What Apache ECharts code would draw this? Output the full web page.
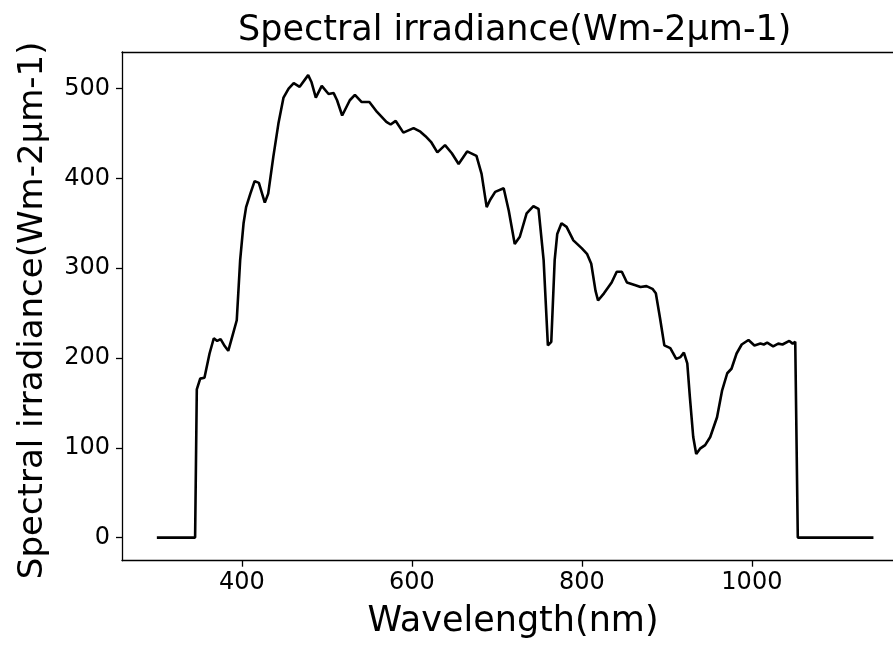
<!DOCTYPE html>
<html>
<head>
<meta charset="utf-8">
<script src="https://cdn.jsdelivr.net/npm/echarts@6/dist/echarts.min.js"></script>
<style>html,body{margin:0;padding:0;background:#fff}#c{width:893px;height:646px}</style>
</head>
<body>
<div id="c"></div>
<script>
const wavelengths = [300,345,347,351,356,362,367,371,375,380,384,389,394,398,402,405,410,415,420,427,431,437,443,449,455,461,468,478,482,487,494,502,508,512,518,527,533,541,550,559,570,575,581,590,602,610,616,623,630,639,647,655,665,676,682,688,692,698,708,714,721,727,735,743,749,755,760,764,768,771,776,782,790,800,806,811,816,819,826,835,841,847,853,863,869,876,883,887,892,897,904,911,916,920,924,927,931,934.5,939,945,951,959,965,971,976,982,988,996,1003,1010,1014,1018,1025,1031,1036,1044,1048,1051,1053,1054,1143];
const irradiance = [0,0,165,177,178,205,222,219,221,213,208,225,242,309,350,368,383,397,395,373,383,424,461,490,500,506,502,515,507,490,503,494,495,487,470,487,493,485,485,474,463,460,464,451,456,452,447,440,429,437,428,416,430,425,405,368,376,385,389,364,327,335,361,369,366,309,214,218,309,338,350,346,331,322,316,305,275,264,272,284,296,296,284,281,279,280,277,272,244,214,211,199,201,206,194,157,112,93,99,103,112,134,164,183,188,205,215,220,214,216,215,217,213,216,215,219,216,218,217,0,0];
const xTicks = [400,600,800,1000];
const yTicks = [0,100,200,300,400,500];
const titleText = 'Spectral irradiance(Wm-2μm-1)';
const xName = 'Wavelength(nm)';
const yName = 'Spectral irradiance(Wm-2μm-1)';

const font = 'DejaVu Sans';
const lineCol = '#000';
const chart = echarts.init(document.getElementById('c'), null, {renderer:'canvas'});
chart.setOption({
  backgroundColor:'#fff',
  animation:false,
  title:{text:titleText,left:233,top:8,textStyle:{fontFamily:font,fontSize:35,fontWeight:'normal',color:'#000'}},
  grid:{left:122,top:52,right:0,bottom:85.3,show:false},
  xAxis:[{type:'value',min:259,max:1166,name:xName,nameLocation:'middle',nameGap:44,
    nameTextStyle:{fontFamily:font,fontSize:35,color:'#000',padding:[0,0,0,11]},
    axisLine:{show:true,onZero:false,lineStyle:{color:lineCol,width:1.3}},
    axisTick:{show:true,length:6,lineStyle:{color:lineCol,width:1.3},customValues:xTicks},
    axisLabel:{fontFamily:font,fontSize:24,color:'#000',margin:10,customValues:xTicks,formatter:v=>String(v)},
    splitLine:{show:false}},
    {type:'value',position:'top',min:259,max:1166,
    axisLine:{show:true,onZero:false,lineStyle:{color:lineCol,width:1.3}},
    axisTick:{show:false},axisLabel:{show:false},splitLine:{show:false}}],
  yAxis:{type:'value',min:-25.75,max:540.75,name:yName,nameLocation:'middle',nameGap:72,
    nameTextStyle:{fontFamily:font,fontSize:34,color:'#000',padding:[0,8,0,0]},
    axisLine:{show:true,onZero:false,lineStyle:{color:lineCol,width:1.3}},
    axisTick:{show:true,length:6,lineStyle:{color:lineCol,width:1.3},customValues:yTicks},
    axisLabel:{fontFamily:font,fontSize:24,color:'#000',margin:12,customValues:yTicks,formatter:v=>String(v)},
    splitLine:{show:false}},
  series:[{type:'line',xAxisIndex:0,data:wavelengths.map((w,i)=>[w,irradiance[i]]),showSymbol:false,symbol:'none',
    lineStyle:{color:'#000',width:2.6},clip:true}]
});
</script>
</body>
</html>
